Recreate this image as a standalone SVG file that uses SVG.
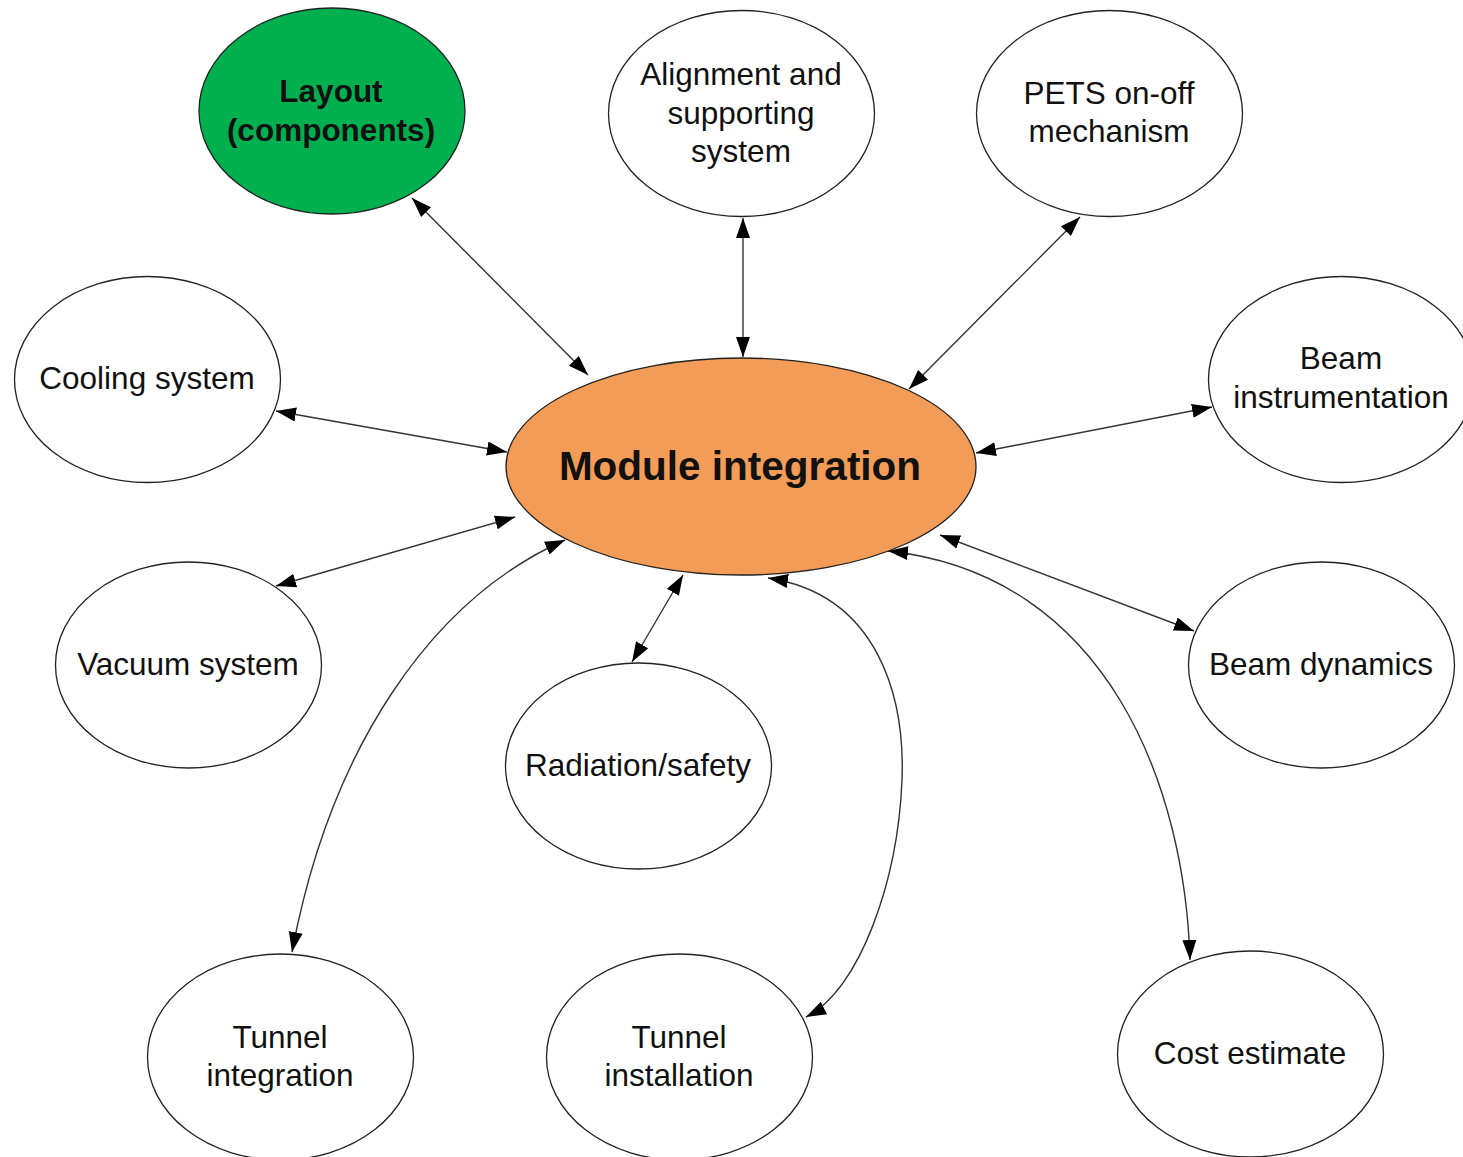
<svg xmlns="http://www.w3.org/2000/svg" width="1463" height="1157" viewBox="0 0 1463 1157">
<style>
.n{fill:#fff;stroke:#222;stroke-width:1.3}
.t{font-family:"Liberation Sans",Arial,sans-serif;font-size:31.5px;fill:#111;text-anchor:middle}
.b{font-weight:bold}
.c{fill:none;stroke:#333;stroke-width:1.4;marker-start:url(#ah);marker-end:url(#ah)}
</style>
<defs>
<marker id="ah" markerUnits="userSpaceOnUse" markerWidth="22" markerHeight="16" refX="20" refY="8" orient="auto-start-reverse" viewBox="0 0 22 16">
<path d="M0,1 L20,8 L0,15 Z" fill="#000"/>
</marker>
</defs>
<rect width="1463" height="1157" fill="#fff"/>
<g id="connectors">
<path class="c" d="M412,198 L588,375"/>
<path class="c" d="M743,218 L743,357"/>
<path class="c" d="M1080,217 L909,389"/>
<path class="c" d="M276,411 L507,452"/>
<path class="c" d="M1212,407 L976,453"/>
<path class="c" d="M276,586 L515,517"/>
<path class="c" d="M1194,631 L940,535"/>
<path class="c" d="M632,662 L683,575"/>
<path class="c" d="M565,540 C430,600 330,750 292,952"/>
<path class="c" d="M768,578 C880,595 905,700 902,780 C898,880 860,990 806,1017"/>
<path class="c" d="M888,551 C1110,575 1185,790 1190,960"/>
</g>
<g id="layout"><ellipse cx="332" cy="111" rx="133" ry="103" fill="#00b04f" stroke="#222" stroke-width="1.3"/>
<text class="t b" x="331" y="102" style="font-size:31.5px">Layout</text><text class="t b" x="331" y="141" style="font-size:31.5px">(components)</text></g>
<g id="alignment"><ellipse class="n" cx="741.5" cy="113.5" rx="133" ry="103"/>
<text class="t" x="741" y="85">Alignment and</text><text class="t" x="741" y="124">supporting</text><text class="t" x="741" y="162">system</text></g>
<g id="pets"><ellipse class="n" cx="1109.5" cy="113.5" rx="133" ry="103"/>
<text class="t" x="1109" y="104">PETS on-off</text><text class="t" x="1109" y="142">mechanism</text></g>
<g id="cooling"><ellipse class="n" cx="147.5" cy="379.5" rx="133" ry="103"/>
<text class="t" x="147" y="389">Cooling system</text></g>
<g id="beaminstr"><ellipse class="n" cx="1341.5" cy="379.5" rx="133" ry="103"/>
<text class="t" x="1341" y="369">Beam</text><text class="t" x="1341" y="408">instrumentation</text></g>
<g id="module"><ellipse cx="741" cy="466.5" rx="235" ry="108.5" fill="#f39c57" stroke="#222" stroke-width="1.3"/>
<text class="t b" x="740" y="480" style="font-size:40.5px">Module integration</text></g>
<g id="vacuum"><ellipse class="n" cx="188.5" cy="665" rx="133" ry="103"/>
<text class="t" x="188" y="675">Vacuum system</text></g>
<g id="beamdyn"><ellipse class="n" cx="1321.5" cy="665" rx="133" ry="103"/>
<text class="t" x="1321" y="675">Beam dynamics</text></g>
<g id="radiation"><ellipse class="n" cx="638.5" cy="766" rx="133" ry="103"/>
<text class="t" x="638" y="776">Radiation/safety</text></g>
<g id="tunnelint"><ellipse class="n" cx="280.5" cy="1057" rx="133" ry="103"/>
<text class="t" x="280" y="1048">Tunnel</text><text class="t" x="280" y="1086">integration</text></g>
<g id="tunnelinst"><ellipse class="n" cx="679.5" cy="1057" rx="133" ry="103"/>
<text class="t" x="679" y="1048">Tunnel</text><text class="t" x="679" y="1086">installation</text></g>
<g id="cost"><ellipse class="n" cx="1250.5" cy="1054" rx="133" ry="103"/>
<text class="t" x="1250" y="1064">Cost estimate</text></g>
</svg>
